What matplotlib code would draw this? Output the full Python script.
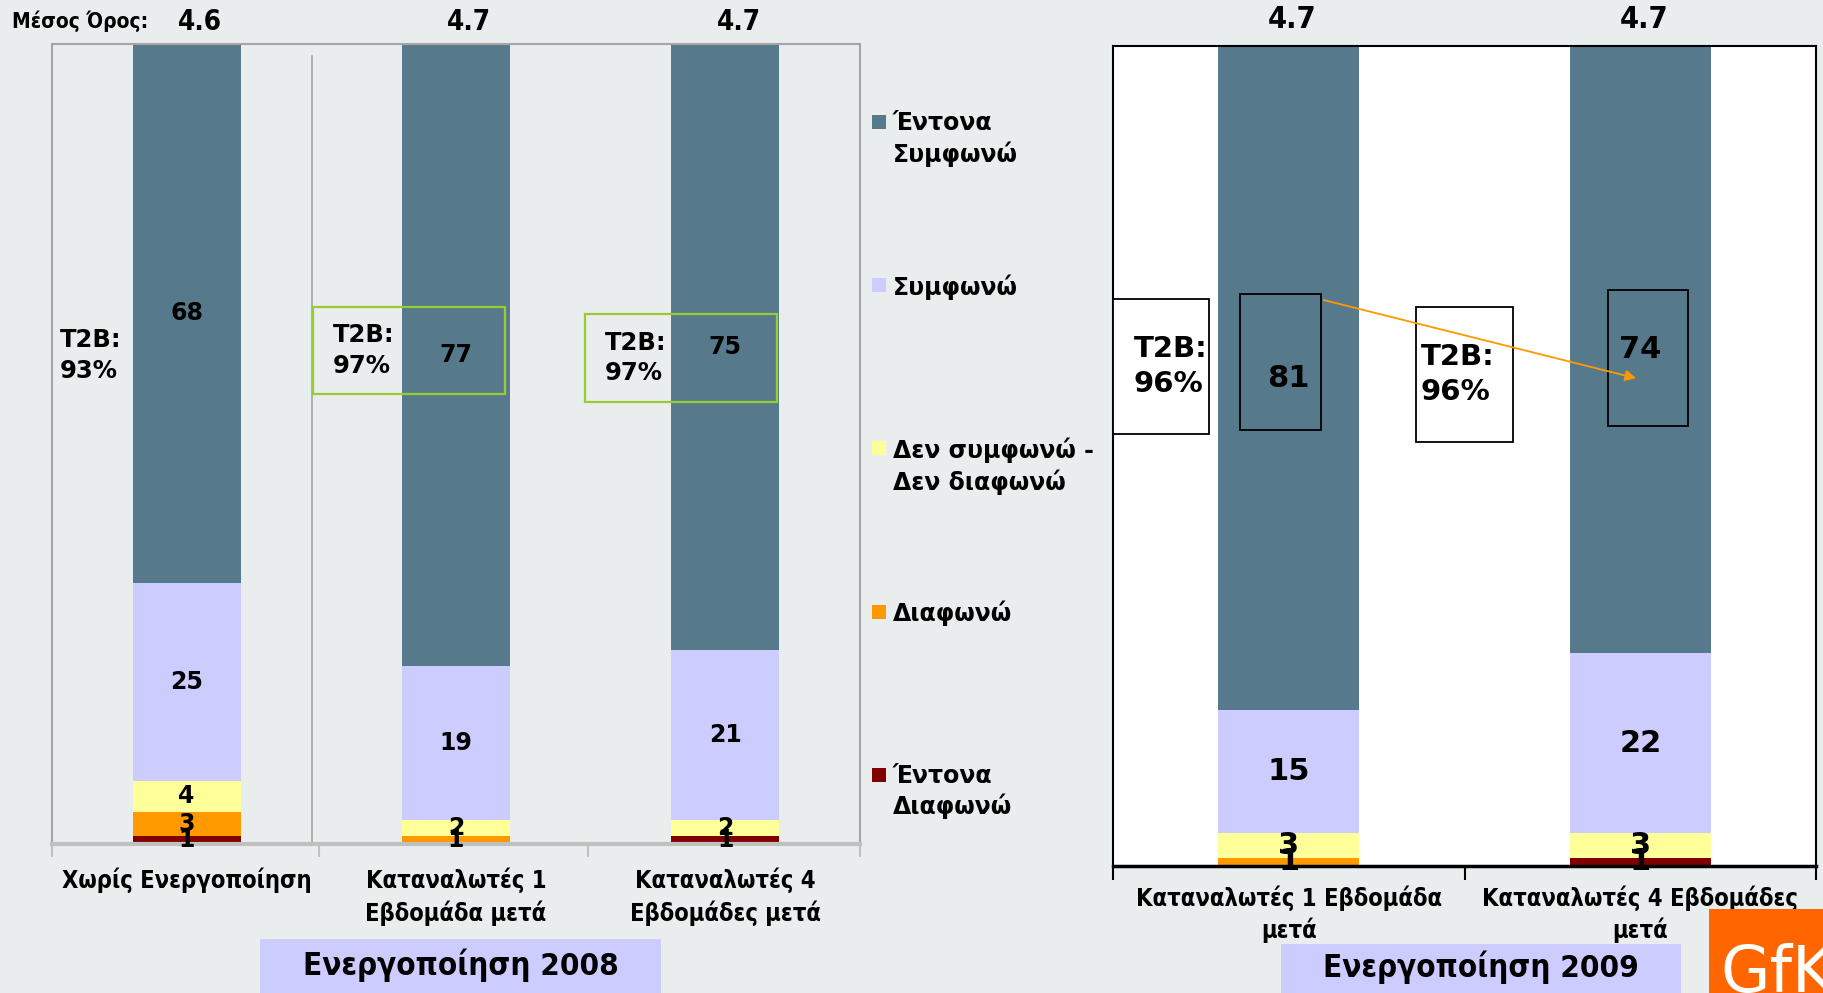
import matplotlib
matplotlib.use('Agg')
import matplotlib.pyplot as plt
from matplotlib.patches import Rectangle, FancyArrowPatch
from matplotlib.transforms import blended_transform_factory
import numpy as np

# ---------------- data ----------------
series = ['Έντονα\nΣυμφωνώ', 'Συμφωνώ', 'Δεν συμφωνώ -\nΔεν διαφωνώ', 'Διαφωνώ', 'Έντονα\nΔιαφωνώ']
colors = ['#567A8B', '#CCCCFF', '#FFFF99', '#FF9900', '#800000']

cats_2008 = ['Χωρίς Ενεργοποίηση', 'Καταναλωτές 1\nΕβδομάδα μετά', 'Καταναλωτές 4\nΕβδομάδες μετά']
strongly_agree_2008 = [68, 77, 75]
agree_2008 = [25, 19, 21]
neutral_2008 = [4, 2, 2]
disagree_2008 = [3, 1, 0]
strongly_disagree_2008 = [1, 0, 1]
mean_2008 = ['4.6', '4.7', '4.7']
t2b_2008 = ['93%', '97%', '97%']

cats_2009 = ['Καταναλωτές 1 Εβδομάδα\nμετά', 'Καταναλωτές 4 Εβδομάδες\nμετά']
strongly_agree_2009 = [81, 74]
agree_2009 = [15, 22]
neutral_2009 = [3, 3]
disagree_2009 = [1, 0]
strongly_disagree_2009 = [0, 1]
mean_2009 = ['4.7', '4.7']
t2b_2009 = ['96%', '96%']

title_2008 = 'Ενεργοποίηση 2008'
title_2009 = 'Ενεργοποίηση 2009'
mean_title = 'Μέσος Όρος:'

# ---------------- layout ----------------
W, H = 1823, 993
BG = '#E9EDEE'
fig = plt.figure(figsize=(W / 100, H / 100), dpi=100, facecolor=BG)

def fx(px):
    return px / W

def fy(py):
    return (H - py) / H

COND = dict(family='DejaVu Sans', fontstretch='condensed', fontweight='bold')
BOLD = dict(family='DejaVu Sans', fontweight='bold')


def draw_stack(ax, rows, label_size):
    vals = np.array(rows, dtype=float)           # top-to-bottom series order
    pct = vals / vals.sum(axis=0) * 100
    x = np.arange(vals.shape[1])
    bottom = np.zeros(vals.shape[1])
    for k in range(vals.shape[0] - 1, -1, -1):   # stack from bottom series
        ax.bar(x, pct[k], 0.4, bottom=bottom, color=colors[k], edgecolor='none', zorder=2)
        for i in x:
            if vals[k, i] > 0:
                ax.text(i, bottom[i] + pct[k, i] / 2, f'{int(vals[k, i])}', ha='center',
                        va='center', fontsize=label_size, color='black', zorder=5, **BOLD)
        bottom += pct[k]


# ---------- left panel (2008) ----------
ax1 = fig.add_axes([fx(52), fy(844), fx(808), 800 / H])
ax1.set_facecolor(BG)
draw_stack(ax1, [strongly_agree_2008, agree_2008, neutral_2008, disagree_2008,
                 strongly_disagree_2008], 17)
ax1.set_xlim(-0.5, 2.5)
ax1.set_ylim(0, 100)
ax1.set_yticks([])
ax1.set_xticks(range(3), cats_2008)
ax1.set_xticks([-0.5, 0.49, 1.49, 2.5], minor=True)
ax1.tick_params(axis='x', which='major', length=0, pad=17)
ax1.tick_params(axis='x', which='minor', length=9, color='#C0C0C0', width=1.5)
for lab in ax1.get_xticklabels():
    lab.set_fontsize(17)
    lab.set_fontweight('bold')
    lab.set_fontstretch('condensed')
    lab.set_linespacing(1.35)
for s in ['left', 'top', 'right']:
    ax1.spines[s].set_color('#A6A6A6')
    ax1.spines[s].set_linewidth(1.5)
ax1.spines['bottom'].set_color('#C0C0C0')
ax1.spines['bottom'].set_linewidth(3)
ax1.axvline(0.467, ymin=0, ymax=0.985, color='#A6A6A6', lw=1.2, zorder=1)

tr1 = blended_transform_factory(ax1.transData, ax1.transAxes)
for i, m in enumerate(mean_2008):
    ax1.text(i + 0.05, 1.028, m, transform=tr1, ha='center', va='center', fontsize=20, **COND)

# T2B annotations 2008
ax1.text(-0.47, 61.1, f'T2B:\n{t2b_2008[0]}', ha='left', va='center', fontsize=17.5,
         linespacing=1.35, zorder=6, **BOLD)
for i, (x0, x1, y0, y1) in zip([1, 2], [(0.469, 1.182, 56.25, 67.1), (1.479, 2.192, 55.25, 66.25)]):
    ax1.add_patch(Rectangle((x0, y0), x1 - x0, y1 - y0, fill=False, edgecolor='#99CC33',
                            lw=1.6, zorder=6, clip_on=False))
    ax1.text(x0 + 0.072, (y0 + y1) / 2, f'T2B:\n{t2b_2008[i]}', ha='left', va='center',
             fontsize=17.5, linespacing=1.35, zorder=6, **BOLD)

# ---------- right panel (2009) ----------
ax2 = fig.add_axes([fx(1113), fy(866), fx(703), 820 / H])
ax2.set_facecolor('white')
draw_stack(ax2, [strongly_agree_2009, agree_2009, neutral_2009, disagree_2009,
                 strongly_disagree_2009], 22)
ax2.set_xlim(-0.5, 1.5)
ax2.set_ylim(0, 100)
ax2.set_yticks([])
ax2.set_xticks(range(2), cats_2009)
ax2.set_xticks([-0.5, 0.5, 1.5], minor=True)
ax2.tick_params(axis='x', which='major', length=0, pad=14)
ax2.tick_params(axis='x', which='minor', length=10, color='black', width=1.5)
for lab in ax2.get_xticklabels():
    lab.set_fontsize(17)
    lab.set_fontweight('bold')
    lab.set_fontstretch('condensed')
    lab.set_linespacing(1.3)
for s in ['left', 'top', 'right']:
    ax2.spines[s].set_color('black')
    ax2.spines[s].set_linewidth(1.5)
ax2.spines['bottom'].set_color('black')
ax2.spines['bottom'].set_linewidth(2.5)

tr2 = blended_transform_factory(ax2.transData, ax2.transAxes)
for i, m in enumerate(mean_2009):
    ax2.text(i + 0.01, 1.032, m, transform=tr2, ha='center', va='center', fontsize=22, **COND)

boxes_t2b = [(-0.5, -0.227, 52.7, 69.2, -0.441), (0.362, 0.638, 51.7, 68.2, 0.376)]
for i, (x0, x1, y0, y1, xt) in enumerate(boxes_t2b):
    ax2.add_patch(Rectangle((x0, y0), x1 - x0, y1 - y0, facecolor='white', edgecolor='black',
                            lw=1.3, zorder=6, clip_on=False))
    ax2.text(xt, (y0 + y1) / 2, f'T2B:\n{t2b_2009[i]}', ha='left', va='center',
             fontsize=21, linespacing=1.3, zorder=7, **BOLD)
for (x0, x1, y0, y1) in [(-0.139, 0.092, 53.2, 69.8), (0.908, 1.136, 53.7, 70.2)]:
    ax2.add_patch(Rectangle((x0, y0), x1 - x0, y1 - y0, fill=False, edgecolor='black',
                            lw=1.3, zorder=6))
ax2.add_patch(FancyArrowPatch((0.092, 69.1), (0.996, 59.4), arrowstyle='-|>',
                              mutation_scale=16, color='#FF9900', lw=1.3, zorder=8))

# ---------- legend ----------
leg_y0, leg_step = 122, 163.2
for k, (name, col) in enumerate(zip(series, colors)):
    yc = leg_y0 + k * leg_step
    fig.patches.append(Rectangle((fx(872), fy(yc + 7)), fx(14), 14 / H, transform=fig.transFigure,
                                 facecolor=col, edgecolor='none'))
    fig.text(fx(893), fy(yc - 11), name, ha='left', va='top', fontsize=17,
             linespacing=1.3, **BOLD)

# ---------- titles, mean label, logo ----------
fig.text(fx(12), fy(21), mean_title, ha='left', va='center', fontsize=15, **COND)

for (x0, x1, y0), t in [((260, 661, 939), title_2008), ((1281, 1681, 944), title_2009)]:
    fig.patches.append(Rectangle((fx(x0), 0), fx(x1 - x0), fy(y0), transform=fig.transFigure,
                                 facecolor='#CCCCFF', edgecolor='none'))
    fig.text(fx((x0 + x1) / 2), fy((y0 + H) / 2 - 1), t, ha='center', va='center',
             fontsize=22.5, **COND)

fig.patches.append(Rectangle((fx(1709), 0), fx(W - 1709), fy(909), transform=fig.transFigure,
                             facecolor='#FF6600', edgecolor='none'))
fig.text(fx(1720), fy(943), 'GfK', ha='left', va='top', fontsize=46, color='white',
         family='DejaVu Sans')

fig.savefig('out.png', dpi=100, facecolor=BG)
